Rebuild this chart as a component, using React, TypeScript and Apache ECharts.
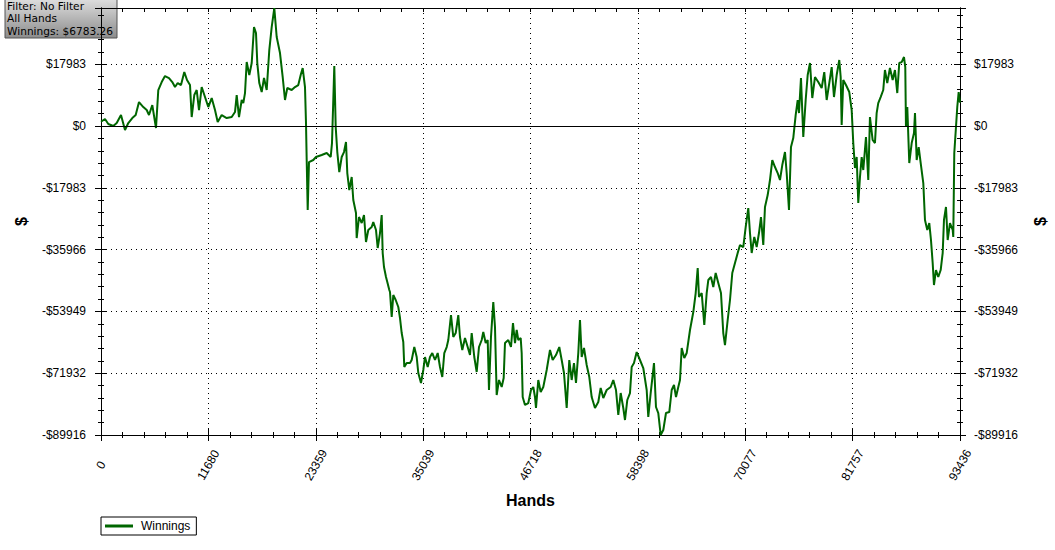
import React, { useEffect, useRef } from 'react';
import * as echarts from 'echarts';

// ---- data (hands played, cumulative winnings in $) ----
const handsA = [0, 435, 794, 1338, 1708, 2175, 2611, 2969, 3405, 3774, 4133, 4601, 4971, 5221, 5580, 5982, 6232, 6602, 6961, 7396, 7755, 8049, 8343, 8702, 9060, 9354, 9681, 9865, 10148, 10409, 10659, 10953, 11312, 11671, 12041, 12400, 12694, 13128, 13672, 14216, 14575, 14760, 15010, 15304];
const winA = [1250, 2040, 580, 0, 870, 3200, -1160, 870, 2330, 3200, 6980, 5530, 4660, 3200, 6110, -580, 10480, 12800, 14550, 13970, 12800, 11350, 12510, 11930, 15710, 13390, 11930, 2620, 9020, 10480, 4660, 11350, 8440, 5530, 8150, 4660, 1160, 3200, 2330, 2620, 4070, 9020, 2620, 7570];

const handsB = [15478, 15663, 15848, 16131, 16392, 16642, 16859, 17001, 17218, 17479, 17730, 18023, 18306, 18567, 18850, 19111, 19470, 19764, 20014, 20264, 20743, 21101, 21460, 21721, 21939, 22189, 22298, 22374, 22483, 22624, 23092, 23386, 24006, 24550, 24985, 25126, 25268, 25376, 25529, 25703, 25920, 26181, 26431, 26649, 26790, 27008, 27269, 27443, 27736, 27812, 28063, 28357, 28607, 28824, 29074, 29444, 29618, 29912, 30097, 30347, 30532, 30641, 30782, 31000, 31141, 31359];
const winB = [6690, 9600, 18620, 14840, 18330, 28810, 27060, 18330, 12510, 9890, 13970, 10480, 22120, 28810, 34300, 25900, 21240, 14260, 7570, 11060, 10480, 11350, 11930, 14840, 16880, 11350, 870, -9890, -24440, -10480, -9890, -9020, -8440, -7860, -9020, -4950, 7570, 17460, -290, -7570, -13390, -9020, -7570, -4660, -13680, -18620, -14840, -21530, -25320, -32590, -26480, -28230, -25900, -33760, -30260, -29390, -27940, -30260, -35500, -31140, -25900, -36960, -41030, -43940, -45400, -47720];

const handsC = [31435, 31620, 31794, 32055, 32338, 32522, 32707, 32881, 32990, 33251, 33610, 33795, 34078, 34339, 34513, 34806, 35057, 35241, 35535, 35785, 36036, 36329, 36623, 36873, 37123, 37341, 37602, 37776, 38070, 38320, 38581, 38864, 39048, 39299, 39592, 39886, 40136, 40321, 40604, 40865, 41115, 41409, 41583, 41844, 42062, 42203, 42420, 42671, 42855, 43040, 43290, 43584, 43801, 43943, 44302, 44596, 44813, 45031, 45216, 45390, 45651, 45759, 45868, 46118, 46477, 46771, 47022, 47207];
const winC = [-48310, -55580, -49180, -50630, -52670, -55870, -60240, -62860, -70130, -68970, -68970, -68090, -64310, -67220, -71880, -74790, -71000, -67220, -70130, -67220, -66060, -68090, -66060, -70130, -73040, -66060, -64310, -62270, -55000, -61400, -60240, -55000, -61400, -65180, -61690, -64310, -66640, -60240, -67220, -71590, -64310, -62270, -59950, -63150, -62270, -76820, -61400, -51220, -58490, -78280, -73910, -75950, -73330, -63150, -62270, -64310, -57330, -63150, -59360, -62270, -61690, -66060, -78860, -81190, -80610, -76820, -75950, -78860];

const handsD = [47315, 47565, 47826, 48109, 48479, 48838, 49131, 49490, 49849, 50110, 50360, 50654, 50937, 51198, 51448, 51666, 51916, 52101, 52286, 52536, 52830, 53113, 53374, 53731, 54091, 54352, 54635, 55005, 55440, 55723, 56017, 56267, 56528, 56811, 56995, 57246, 57539, 57724, 57974, 58268, 58627, 58986, 59356, 59530, 59791, 60150, 60367, 60618, 60879, 61162, 61456, 61815, 62076, 62326, 62544, 62794, 62979];
const winD = [-82060, -73910, -77410, -75950, -71000, -65180, -68090, -66640, -64310, -68090, -71880, -82060, -68090, -73910, -68970, -74790, -66060, -56450, -67220, -64600, -69550, -73040, -78860, -82060, -80320, -76240, -79150, -76820, -75950, -73910, -76820, -84100, -77700, -82060, -85550, -79730, -77700, -70130, -68970, -65770, -68090, -70420, -76820, -84680, -77700, -68970, -81770, -83520, -89900, -88460, -83520, -83230, -76820, -75370, -78860, -75950, -73910];

const handsE = [63164, 63447, 63708, 64067, 64426, 64687, 64905, 65045, 65339, 65622, 65883, 66057, 66350, 66600, 66861, 67144, 67437, 67687, 67872, 68166, 68417, 68667, 68960, 69254, 69504, 69863, 70124, 70407, 70592, 70777, 71060, 71321, 71571, 71788, 72039, 72223, 72517, 72767, 73017, 73311, 73604, 73855, 74105, 74399, 74584, 74834, 75051, 75301, 75562, 75780, 75921, 76139, 76389, 76650, 76868, 77118, 77368, 77662, 78020, 78390, 78673];
const winE = [-64600, -67510, -66060, -59360, -54130, -48600, -41320, -49760, -48600, -57910, -48600, -44810, -43940, -46850, -42780, -45690, -48600, -60240, -63730, -56450, -50630, -42780, -39870, -36960, -34630, -35210, -29390, -23860, -31140, -36960, -32300, -35210, -31140, -26480, -34630, -23570, -20080, -15710, -9890, -11930, -13680, -15710, -11350, -7570, -13680, -24440, -6110, -3490, 3200, 7570, 3780, 13970, -3200, 7570, 14840, 18330, 8150, 14260, 12800, 11060, 15710];

const handsF = [78934, 79217, 79478, 79728, 80022, 80304, 80457, 80565, 80739, 81033, 81392, 81653, 81827, 82013, 82197, 82372, 82556, 82741, 82915, 83209, 83459, 83641, 83935, 84185, 84370, 84544, 84805, 85088, 85272, 85522, 85816, 86110, 86360, 86614, 86830, 87091, 87344, 87484, 87560, 87702, 87919, 88181, 88432, 88540, 88725, 88943, 89161, 89444, 89627, 89878, 90095, 90279, 90464, 90605, 90823, 91073, 91334, 91552, 91693, 91911, 92096, 92346, 92640, 92705, 92814, 92999, 93140, 93292, 93436];
const winF = [7570, 12510, 17170, 8440, 14840, 19210, 14260, 290, 13390, 11930, 9890, 4660, -4950, -12220, -9020, -22410, -14840, -9020, -12800, -3200, -15710, 2620, -4070, -4950, 3780, 6690, 8440, 10480, 16300, 12510, 16880, 13390, 16300, 9600, 18330, 18620, 20080, 17170, -290, 5530, -10770, -4950, -2040, 3780, -9890, -6110, -10770, -16590, -27350, -30260, -28230, -33170, -39870, -46270, -41900, -43940, -41900, -36960, -27350, -23570, -33170, -28230, -30260, -32300, -7860, -290, 5530, 9890, 6783.26];

const xTickLabels = ['0', '11680', '23359', '35039', '46718', '58398', '70077', '81757', '93436'];
const yTickLabels = ['-$89916', '-$71932', '-$53949', '-$35966', '-$17983', '$0', '$17983'];
const infoLines = ['Filter: No Filter', 'All Hands', 'Winnings: $6783.26'];
const seriesName = 'Winnings';
const xName = 'Hands';
const yName = '$';

const X_MIN = 0;
const X_MAX = 93436;
const X_INT = 11679.5;
const Y_MIN = -89916;
const Y_MAX = 34350;
const Y_INT = 17983.2;

const FONT = '"Liberation Sans", Arial, sans-serif';

function buildData(): [number, number][] {
  const hs = [handsA, handsB, handsC, handsD, handsE, handsF];
  const ws = [winA, winB, winC, winD, winE, winF];
  const out: [number, number][] = [];
  for (let s = 0; s < hs.length; s++) {
    const n = Math.min(hs[s].length, ws[s].length);
    for (let i = 0; i < n; i++) out.push([hs[s][i], ws[s][i]]);
  }
  return out;
}

const xFmt = (v: number) => {
  const i = Math.round((v - X_MIN) / X_INT);
  if (Math.abs(v - (X_MIN + i * X_INT)) > 1) return '';
  return xTickLabels[i] ?? '';
};
const yFmt = (v: number) => {
  const i = Math.round((v - Y_MIN) / Y_INT);
  if (Math.abs(v - (Y_MIN + i * Y_INT)) > 1) return '';
  return yTickLabels[i] ?? '';
};

const black = { color: '#000', width: 1 };

function xAxisBase(gridIndex: number, position: string, inside: boolean, len: number, minorLen: number) {
  return {
    type: 'value',
    gridIndex,
    position,
    min: X_MIN,
    max: X_MAX,
    interval: X_INT,
    axisLine: { show: true, onZero: false, lineStyle: black },
    axisTick: { show: true, inside, length: len, lineStyle: black },
    minorTick: { show: true, splitNumber: 5, length: minorLen, lineStyle: black },
    axisLabel: { show: false },
    splitLine: { show: false },
  };
}
function yAxisBase(gridIndex: number, position: string, inside: boolean) {
  return {
    type: 'value',
    gridIndex,
    position,
    min: Y_MIN,
    max: Y_MAX,
    interval: Y_INT,
    axisLine: { show: true, onZero: false, lineStyle: black },
    axisTick: { show: true, inside, length: 6, lineStyle: black },
    minorTick: { show: true, splitNumber: 5, length: 3, lineStyle: black },
    axisLabel: { show: false },
    splitLine: { show: false },
  };
}

export default function App() {
  const ref = useRef<HTMLDivElement>(null);
  useEffect(() => {
    if (!ref.current) return;
    const chart = echarts.init(ref.current, null, { renderer: 'svg' });
    const gridRect = { left: 101, right: 95, top: 8, bottom: 115, containLabel: false, outerBoundsMode: 'none', show: false };
    const yLabel = { show: true, formatter: yFmt, color: '#000', fontSize: 12, fontFamily: FONT, margin: 15 };
    const yNameStyle = { fontWeight: 'bold', fontSize: 16, color: '#000', fontFamily: FONT };
    const dotted = { show: true, lineStyle: { color: '#000', width: 1, type: [1, 4] } };
    const option: any = {
      animation: false,
      backgroundColor: '#fff',
      grid: [gridRect, { ...gridRect }],
      xAxis: [
        {
          ...xAxisBase(0, 'bottom', false, 6, 3),
          axisLabel: {
            show: true, formatter: xFmt, rotate: 60, align: 'center', verticalAlign: 'middle',
            margin: 30, color: '#000', fontSize: 12, fontFamily: FONT,
          },
          splitLine: dotted,
          name: xName, nameLocation: 'middle', nameGap: 57, nameTextStyle: yNameStyle,
        },
        { ...xAxisBase(0, 'top', true, 4, 4) },
        { ...xAxisBase(1, 'bottom', true, 6, 3) },
      ],
      yAxis: [
        {
          ...yAxisBase(0, 'left', false),
          axisLabel: yLabel,
          splitLine: dotted,
          name: yName, nameLocation: 'middle', nameGap: 72, nameTextStyle: yNameStyle,
        },
        {
          ...yAxisBase(0, 'right', false),
          axisLabel: { ...yLabel, margin: 14 },
          name: yName, nameLocation: 'middle', nameGap: 72, nameTextStyle: yNameStyle,
        },
        { ...yAxisBase(1, 'left', true) },
        { ...yAxisBase(1, 'right', true) },
      ],
      legend: {
        show: true,
        left: 101,
        top: 517,
        orient: 'horizontal',
        borderColor: '#000',
        borderWidth: 1,
        padding: [2, 6, 2, 4],
        itemWidth: 28,
        itemHeight: 3,
        icon: 'rect',
        textStyle: { color: '#000', fontSize: 12, fontFamily: FONT, lineHeight: 14, padding: [0, 0, 0, 3] },
        data: [seriesName],
      },
      graphic: [
        {
          type: 'group',
          x: 0,
          y: 0,
          children: [
            {
              type: 'rect',
              shape: { x: 5, y: -1, width: 112, height: 39 },
              style: {
                fill: new echarts.graphic.LinearGradient(0, 0, 0, 1, [
                  { offset: 0, color: '#dedede' },
                  { offset: 1, color: '#8c8c8c' },
                ]),
                stroke: '#555',
                lineWidth: 1,
              },
            },
            ...infoLines.map((t, i) => ({
              type: 'text',
              x: 7,
              y: 6 + i * 12.3,
              style: {
                text: t,
                fill: '#000',
                font: '10.6px "DejaVu Sans", Verdana, sans-serif',
                verticalAlign: 'middle',
                align: 'left',
              },
            })),
          ],
        },
      ],
      series: [
        {
          name: seriesName,
          type: 'line',
          xAxisIndex: 0,
          yAxisIndex: 0,
          data: buildData(),
          showSymbol: false,
          symbol: 'none',
          lineStyle: { color: '#006600', width: 2 },
          itemStyle: { color: '#006600' },
          markLine: {
            silent: true,
            symbol: ['none', 'none'],
            label: { show: false },
            lineStyle: { color: '#000', type: 'solid', width: 1 },
            data: [{ yAxis: 0 }],
          },
          z: 3,
        },
      ],
    };
    chart.setOption(option);
    return () => chart.dispose();
  }, []);
  return (
    <div
      ref={ref}
      style={{ position: 'fixed', left: 0, top: 0, width: 1055, height: 550, background: '#fff' }}
    />
  );
}
